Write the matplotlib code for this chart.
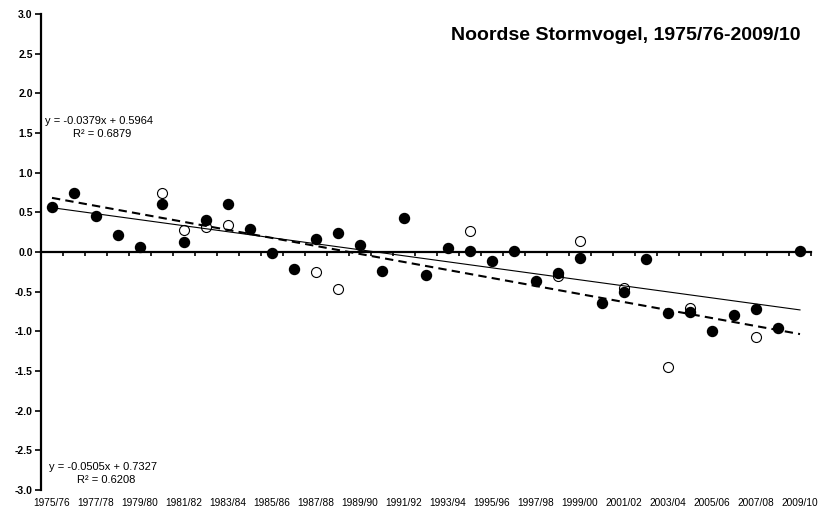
import matplotlib
matplotlib.use("Agg")
import matplotlib.pyplot as plt
import numpy as np

plt.rcParams['font.family'] = ['Liberation Sans', 'DejaVu Sans']

# seasons 1975/76 .. 2009/10
seasons = ["%d/%02d" % (y, (y + 1) % 100) for y in range(1975, 2010)]

# filled dots (all seasons)
filled_vals = [0.57, 0.75, 0.45, 0.22, 0.06, 0.60, 0.12, 0.40, 0.60, 0.29,
               -0.01, -0.21, 0.16, 0.24, 0.09, -0.24, 0.43, -0.29, 0.05, 0.01,
               -0.11, 0.01, -0.36, -0.26, -0.07, -0.64, -0.50, -0.09, -0.77, -0.76,
               -1.00, -0.80, -0.72, -0.96, 0.01]

# open circles (only some seasons)
open_seasons = ["1980/81", "1981/82", "1982/83", "1983/84", "1987/88", "1988/89",
                "1994/95", "1998/99", "1999/00", "2001/02", "2003/04", "2004/05",
                "2007/08"]
open_vals = [0.74, 0.28, 0.31, 0.34, -0.25, -0.47,
             0.26, -0.30, 0.14, -0.46, -1.45, -0.70,
             -1.07]

# trendlines as printed on the chart
solid_fit = (-0.0379, 0.5964, 0.6879)
dashed_fit = (-0.0505, 0.7327, 0.6208)

title = "Noordse Stormvogel, 1975/76-2009/10"

W, H = 822, 511
fig = plt.figure(figsize=(W / 100, H / 100), dpi=100)
ax = fig.add_axes([41 / W, 1 - 490 / H, 770 / W, 476 / H])

x = np.arange(1, len(seasons) + 1)
xo = [seasons.index(s) + 1 for s in open_seasons]

ax.plot(xo, open_vals, 'o', ms=7.2, mfc='white', mec='black', mew=0.8, zorder=3)
ax.plot(x, filled_vals, 'o', ms=7.2, mfc='black', mec='black', zorder=4)

# trendlines over the full season range
xl = np.array([x[0], x[-1]])
ax.plot(xl, solid_fit[0] * xl + solid_fit[1], color='black', lw=0.8, zorder=5)
ax.plot(xl, dashed_fit[0] * xl + dashed_fit[1], color='black', lw=1.5,
        dashes=(4, 2.5), zorder=5)

ax.set_xlim(0.5, len(seasons) + 0.5)
ax.set_ylim(-3, 3)

for s in ['top', 'right']:
    ax.spines[s].set_visible(False)
ax.spines['bottom'].set_position(('data', 0))
ax.spines['bottom'].set_linewidth(1.6)
ax.spines['left'].set_linewidth(1.6)

yt = np.arange(-3, 3.01, 0.5)
ax.set_yticks(yt)
ax.set_yticklabels(["%.1f" % v for v in yt], fontsize=7.5, fontweight='bold')
ax.tick_params(axis='y', direction='out', length=4, width=1.2, pad=2)

# ticks between categories on the zero line, labels at the bottom
ax.set_xticks(np.arange(0.5, len(seasons) + 1, 1))
ax.set_xticklabels([])
ax.tick_params(axis='x', direction='out', length=3, width=1.2)

sec = ax.secondary_xaxis(0)
sec.set_xticks(x[::2])
sec.set_xticklabels(seasons[::2], fontsize=7.3)
sec.tick_params(length=0, pad=6)
sec.spines['bottom'].set_visible(False)

fig.text(800 / W, 1 - 36 / H, title, fontsize=14, fontweight='bold',
         ha='right', va='center')

fig.text(45 / W, 1 - 121 / H, "y = -0.0379x + 0.5964", fontsize=8, va='center')
fig.text(73 / W, 1 - 134 / H, "R\u00b2 = %.4f" % solid_fit[2], fontsize=8, va='center')
fig.text(49 / W, 1 - 467 / H, "y = -0.0505x + 0.7327", fontsize=8, va='center')
fig.text(77 / W, 1 - 480 / H, "R\u00b2 = %.4f" % dashed_fit[2], fontsize=8, va='center')

fig.savefig("out.png", dpi=100)
